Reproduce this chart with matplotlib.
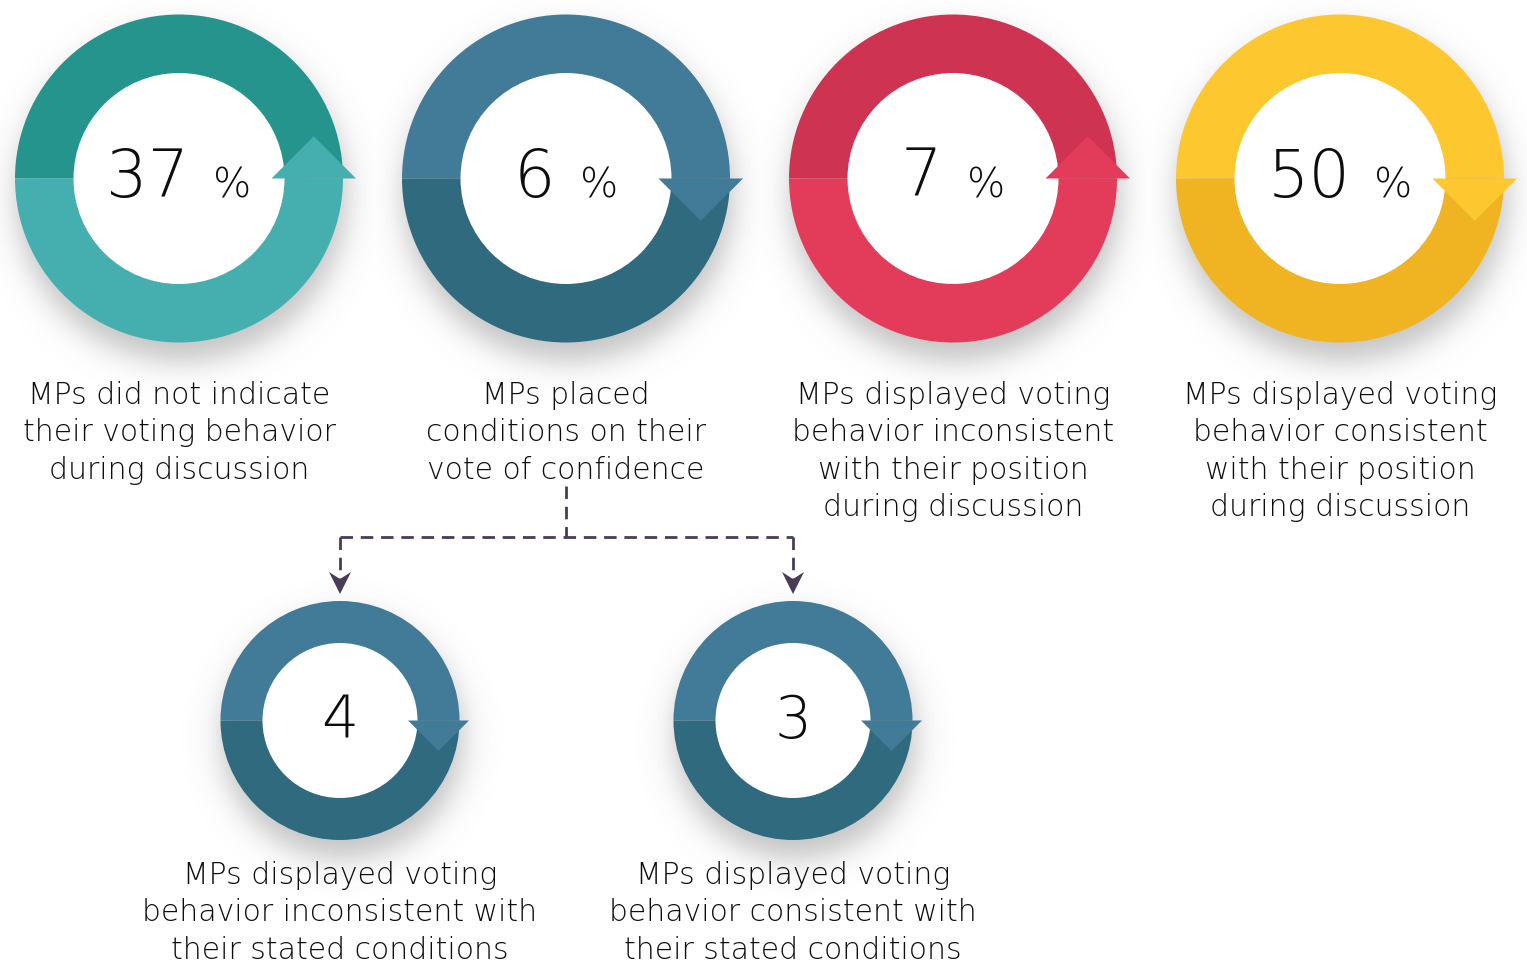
import numpy as np
import matplotlib.pyplot as plt
from matplotlib.patches import Wedge, Circle, Polygon

W, H = 1527, 977

# Data
values = ['37', '6', '7', '50']
labels = [
    ['MPs did not indicate', 'their voting behavior', 'during discussion'],
    ['MPs placed', 'conditions on their', 'vote of confidence'],
    ['MPs displayed voting', 'behavior inconsistent', 'with their position', 'during discussion'],
    ['MPs displayed voting', 'behavior consistent', 'with their position', 'during discussion'],
]
top_colors = ['#24948D', '#417B97', '#CE3351', '#FDC82F']
bottom_colors = ['#45AFAF', '#306A7E', '#E33C5A', '#F0B422']
arrow_dirs = ['up', 'down', 'up', 'down']

sub_values = ['4', '3']
sub_labels = [
    ['MPs displayed voting', 'behavior inconsistent with', 'their stated conditions'],
    ['MPs displayed voting', 'behavior consistent with', 'their stated conditions'],
]

TEXT = '#0F0C0D'
LINE = '#4A3B57'
FONT = 'DejaVu Sans'

big_x = [179, 566, 953, 1340]
big_y = 178.5
big_R, big_r = 164, 105.5
sub_x = [340, 793]
sub_y = 720.5
sub_R, sub_r = 119.5, 77.5

fig = plt.figure(figsize=(W / 100, H / 100), dpi=100)
ax = fig.add_axes([0, 0, 1, 1])
ax.set_xlim(0, W)
ax.set_ylim(0, H)
ax.axis('off')


def Y(y):
    return H - y


# soft drop shadows
rings = [(x, big_y, big_R) for x in big_x] + [(x, sub_y, sub_R) for x in sub_x]
yy, xx = np.mgrid[0:H, 0:W]
alpha = np.zeros((H, W))
for cx, cy, R in rings:
    d = np.hypot(xx - (cx + 2), yy - (cy + 17))
    alpha = np.maximum(alpha, 0.36 / (1 + np.exp((d - (R + 1)) / 9.0)))
shadow = np.zeros((H, W, 4))
shadow[..., :3] = 0.35
shadow[..., 3] = alpha
ax.imshow(shadow, extent=(0, W, 0, H), origin='upper', zorder=0, interpolation='bilinear')


def draw_ring(cx, cy, R, r, top, bottom, direction):
    cy = Y(cy)
    ax.add_patch(Wedge((cx, cy), R, 0, 180, color=top, lw=0, zorder=2))
    ax.add_patch(Wedge((cx, cy), R, 180, 360, color=bottom, lw=0, zorder=2))
    ax.add_patch(Circle((cx, cy), r, color='white', lw=0, zorder=3))
    mid = cx + (R + r) / 2
    hw = (R - r) / 2 + 13 * (R / 164)
    if direction == 'up':
        pts = [(mid - hw, cy), (mid + hw, cy), (mid, cy + hw)]
        col = bottom
    else:
        pts = [(mid - hw, cy), (mid + hw, cy), (mid, cy - hw)]
        col = top
    ax.add_patch(Polygon(pts, closed=True, color=col, lw=0, zorder=4))


renderer = fig.canvas.get_renderer()

for i in range(4):
    cx = big_x[i]
    draw_ring(cx, big_y, big_R, big_r, top_colors[i], bottom_colors[i], arrow_dirs[i])
    t1 = ax.text(cx, Y(197), values[i], fontsize=47, family=FONT, weight='light',
                 color=TEXT, ha='left', va='baseline', zorder=5)
    t2 = ax.text(cx, Y(197), '%', fontsize=29, family=FONT, weight='light',
                 color=TEXT, ha='left', va='baseline', zorder=5)
    w1 = t1.get_window_extent(renderer).width
    w2 = t2.get_window_extent(renderer).width
    gap = 24
    left = cx - (w1 + gap + w2) / 2
    t1.set_x(left)
    t2.set_x(left + w1 + gap)
    for j, line in enumerate(labels[i]):
        ax.text(cx, Y(404 + 37.3 * j), line, fontsize=21.5, family=FONT, weight='light',
                color=TEXT, ha='center', va='baseline', zorder=5)

for i in range(2):
    cx = sub_x[i]
    draw_ring(cx, sub_y, sub_R, sub_r, top_colors[1], bottom_colors[1], 'down')
    ax.text(cx, Y(738), sub_values[i], fontsize=42, family=FONT, weight='light',
            color=TEXT, ha='center', va='baseline', zorder=5)
    for j, line in enumerate(sub_labels[i]):
        ax.text(cx, Y(884 + 37.3 * j), line, fontsize=21.5, family=FONT, weight='light',
                color=TEXT, ha='center', va='baseline', zorder=5)

# dashed connector from the 6% ring to the two sub rings
dash = dict(color=LINE, lw=2, ls=(0, (4.5, 2.8)), zorder=1)
ax.plot([big_x[1], big_x[1]], [Y(486), Y(537)], **dash)
ax.plot([sub_x[0], sub_x[1]], [Y(537), Y(537)], **dash)
for cx in sub_x:
    ax.plot([cx, cx], [Y(537), Y(578)], **dash)
    head = [(cx, Y(594)), (cx - 11, Y(572)), (cx, Y(579)), (cx + 11, Y(572))]
    ax.add_patch(Polygon(head, closed=True, color=LINE, lw=0, zorder=1))

fig.savefig('out.png', dpi=100, facecolor='white')
